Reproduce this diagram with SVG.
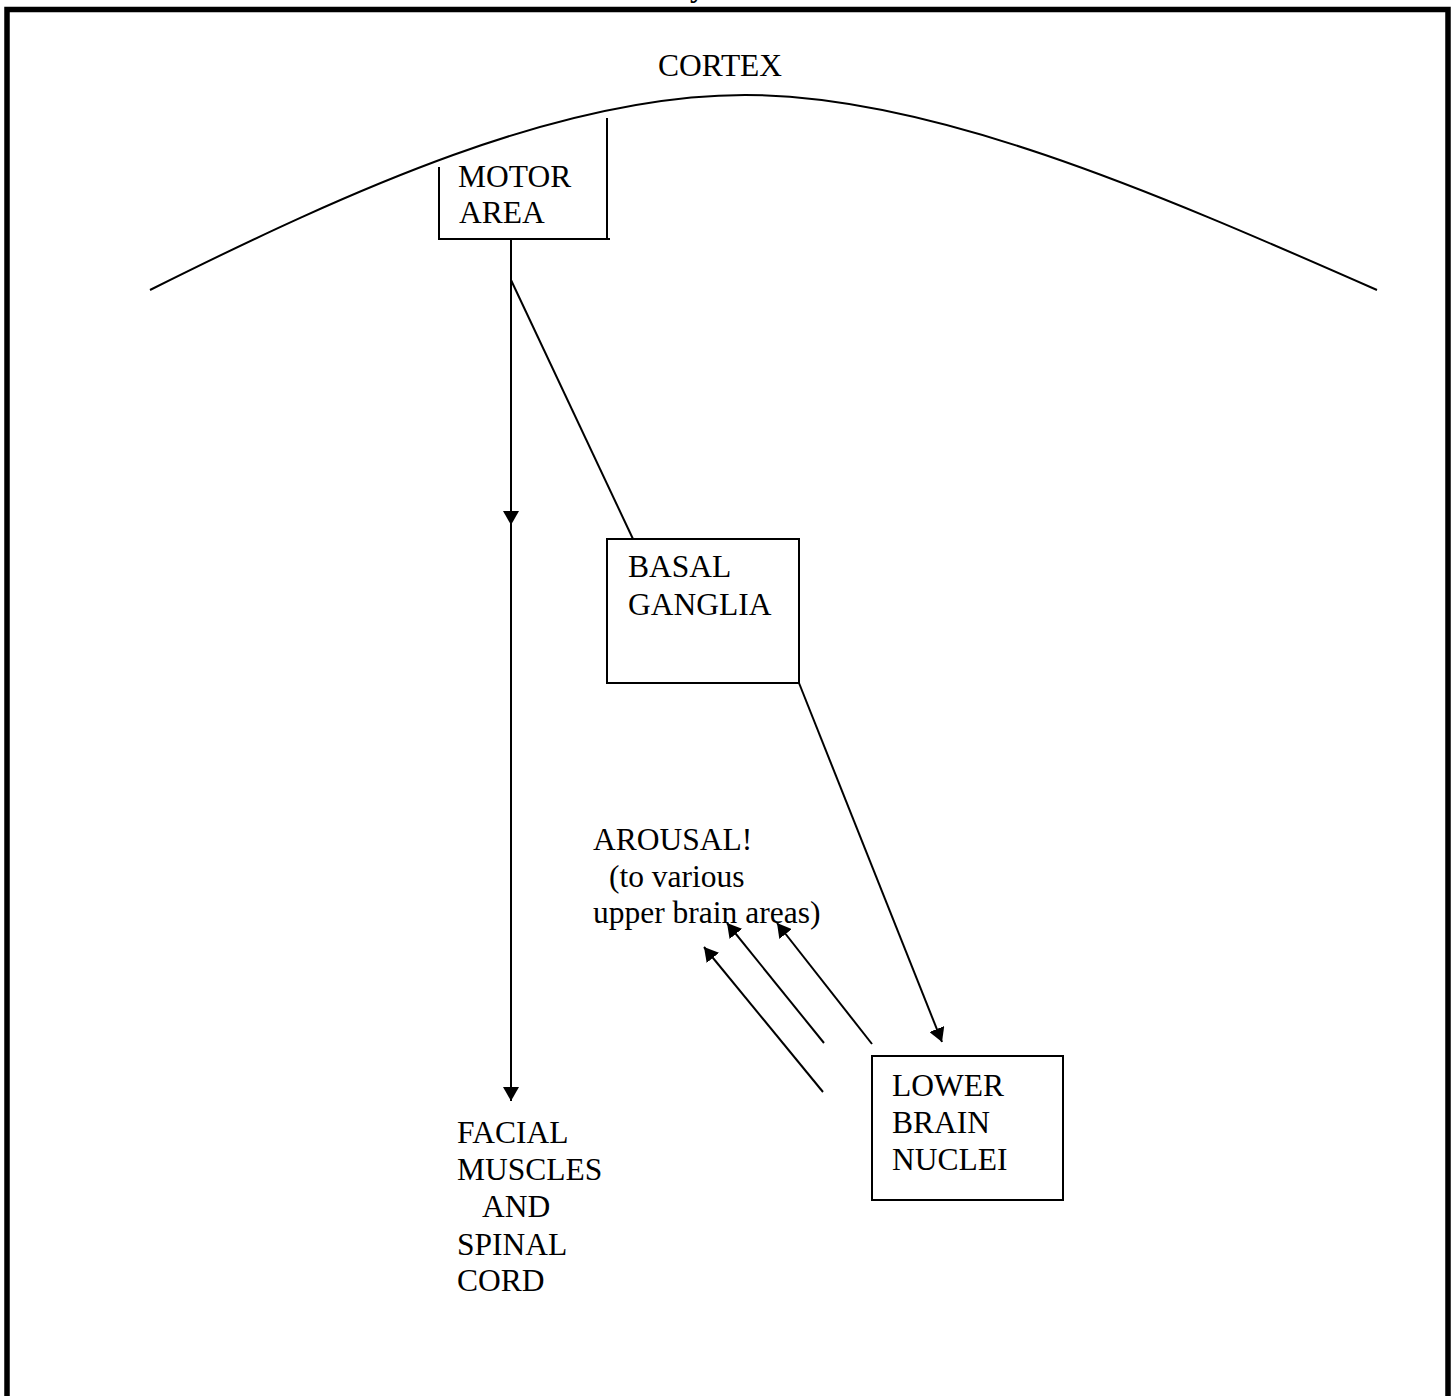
<svg xmlns="http://www.w3.org/2000/svg" width="1456" height="1396" viewBox="0 0 1456 1396">
  <style>
    .t { font-family: "Liberation Serif", "Times New Roman", serif; font-size: 31.5px; fill: #000; }
    .ln { fill: none; stroke: #000; stroke-width: 2; }
    .box { fill: #fff; stroke: #000; stroke-width: 2; }
  </style>
  <defs>
    <marker id="arrow" viewBox="0 0 14 16" refX="14" refY="8" markerWidth="14" markerHeight="16" markerUnits="userSpaceOnUse" orient="auto">
      <path d="M0,0 L14,8 L0,16 Z" fill="#000"/>
    </marker>
  </defs>
  <rect width="1456" height="1396" fill="#fff"/>

  <!-- title, cut at the top edge -->
  <text x="690" y="-3" style="font-family: 'Liberation Serif', serif; font-size: 30px; font-weight: bold;">y</text>

  <!-- outer frame, open at the bottom -->
  <path d="M7,1396 V9.5 H1448 V1396" fill="none" stroke="#000" stroke-width="5.5"/>

  <!-- cortex surface -->
  <g id="cortex">
    <path class="ln" d="M150,290 C350,190 560,95 745,95 C930,95 1150,190 1377,290"/>
    <text class="t" x="658" y="76">CORTEX</text>
  </g>

  <g id="connectors">
    <!-- motor area down to facial muscles and spinal cord -->
    <path class="ln" d="M511,239 V525" marker-end="url(#arrow)"/>
    <path class="ln" d="M511,520 V1101" marker-end="url(#arrow)"/>
    <!-- motor area to basal ganglia -->
    <path class="ln" d="M511,280 L633,539"/>
    <!-- basal ganglia to lower brain nuclei -->
    <path class="ln" d="M799,683 L942,1042" marker-end="url(#arrow)"/>
    <!-- arousal projections -->
    <path class="ln" d="M823,1092 L704,947" marker-end="url(#arrow)"/>
    <path class="ln" d="M824,1043 L727,923" marker-end="url(#arrow)"/>
    <path class="ln" d="M872,1044 L777,923" marker-end="url(#arrow)"/>
  </g>

  <g id="motor-area">
    <path class="ln" d="M439,167 V239 H610 M607,118 V239"/>
    <text class="t" x="458" y="187">MOTOR</text>
    <text class="t" x="459" y="223">AREA</text>
  </g>

  <g id="basal-ganglia">
    <rect class="box" x="607" y="539" width="192" height="144"/>
    <text class="t" x="628" y="577">BASAL</text>
    <text class="t" x="628" y="615">GANGLIA</text>
  </g>

  <g id="lower-brain-nuclei">
    <rect class="box" x="872" y="1056" width="191" height="144"/>
    <text class="t" x="892" y="1096">LOWER</text>
    <text class="t" x="892" y="1133">BRAIN</text>
    <text class="t" x="892" y="1170">NUCLEI</text>
  </g>

  <g id="facial-muscles">
    <text class="t" x="457" y="1143">FACIAL</text>
    <text class="t" x="457" y="1180">MUSCLES</text>
    <text class="t" x="482" y="1217">AND</text>
    <text class="t" x="457" y="1255">SPINAL</text>
    <text class="t" x="457" y="1291">CORD</text>
  </g>

  <g id="arousal">
    <text class="t" x="593" y="850">AROUSAL!</text>
    <text class="t" x="609" y="887">(to various</text>
    <text class="t" x="593" y="923">upper brain areas)</text>
  </g>
</svg>
